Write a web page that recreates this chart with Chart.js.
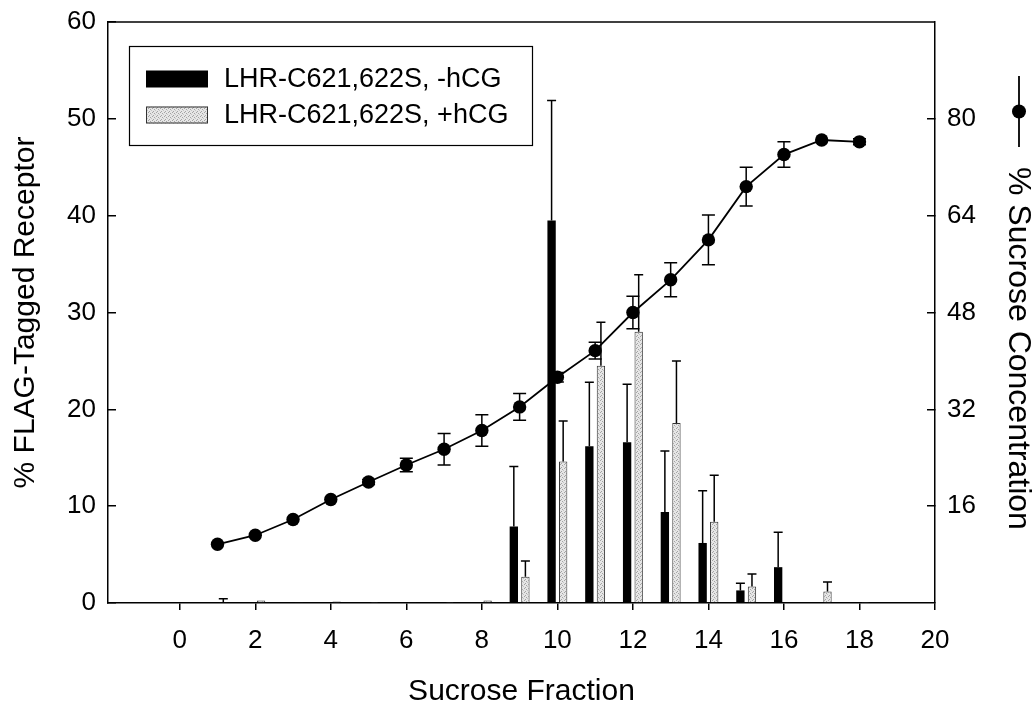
<!DOCTYPE html>
<html>
<head>
<meta charset="utf-8">
<script src="https://cdn.jsdelivr.net/npm/chart.js@4.4.1/dist/chart.umd.min.js"></script>
<style>
  html, body { margin: 0; padding: 0; background: #fff; }
  #wrap { width: 1036px; height: 710px; }
</style>
</head>
<body>
<div id="wrap"><canvas id="c" width="1036" height="710"></canvas></div>
<script>
// Sucrose gradient fractions
const fractions = [1, 2, 3, 4, 5, 6, 7, 8, 9, 10, 11, 12, 13, 14, 15, 16, 17, 18];

// % FLAG-tagged receptor per fraction, without hCG (mean and upper SEM)
const minusHcg    = [0.05, 0.1, 0.05, 0.05, 0.1, 0.05, 0.05, 0.1, 7.9, 39.5, 16.2, 16.6, 9.4, 6.2, 1.3, 3.7, 0, 0.1];
const minusHcgErr = [0, 0, 0, 0, 0, 0, 0, 0, 6.2, 12.4, 6.6, 6.0, 6.3, 5.4, 0.75, 3.6, 0, 0];

// % FLAG-tagged receptor per fraction, with hCG
const plusHcg    = [0.1, 0.25, 0.1, 0.15, 0.05, 0.1, 0.05, 0.25, 2.7, 14.6, 24.5, 28.0, 18.6, 8.4, 1.7, 0, 1.2, 0.05];
const plusHcgErr = [0.35, 0, 0, 0, 0, 0, 0, 0, 1.65, 4.2, 4.5, 5.9, 6.4, 4.8, 1.3, 0, 0.96, 0];

// % sucrose concentration per fraction (right axis)
const sucrose    = [9.7, 11.2, 13.8, 17.1, 20.0, 22.8, 25.4, 28.5, 32.4, 37.3, 41.7, 48.0, 53.4, 60.0, 68.8, 74.1, 76.5, 76.2];
const sucroseErr = [0, 0, 0, 0, 0.4, 1.1, 2.6, 2.6, 2.2, 0.8, 1.4, 2.7, 2.8, 4.1, 3.2, 2.1, 0, 0.5];

// Axis tick values
const fractionTicks = [0, 2, 4, 6, 8, 10, 12, 14, 16, 18, 20];
const receptorTicks = [0, 10, 20, 30, 40, 50, 60];
const sucroseTicks  = [16, 32, 48, 64, 80];

const seriesLabels = ['LHR-C621,622S, -hCG', 'LHR-C621,622S, +hCG'];

Chart.defaults.font.family = '"Liberation Sans", Arial, sans-serif';
Chart.defaults.color = '#000';

// Light stippled fill for the +hCG bars
function stipple() {
  const c = document.createElement('canvas');
  c.width = 4; c.height = 4;
  const g = c.getContext('2d');
  g.fillStyle = '#e6e6e6';
  g.fillRect(0, 0, 4, 4);
  g.fillStyle = '#a4a4a4';
  g.fillRect(0, 0, 1, 1);
  g.fillRect(2, 1, 1, 1);
  g.fillRect(1, 3, 1, 1);
  g.fillStyle = '#c4c4c4';
  g.fillRect(3, 2, 1, 1);
  return g.createPattern(c, 'repeat');
}
const greyFill = stipple();

const toPoints = (vals) => fractions.map((f, i) => ({ x: f, y: vals[i] }));

// Vertical axes: fixed width, no extra room reserved above/below for end labels
const fitVertical = (width) => (s) => {
  s.width = width;
  s.paddingTop = 0;
  s.paddingBottom = 0;
};

// Vertical error bars: upper only for bars, both directions for the sucrose curve
const errorBars = {
  id: 'errorBars',
  afterDatasetsDraw(chart) {
    const ctx = chart.ctx;
    chart.data.datasets.forEach((ds, di) => {
      if (!ds.errors) return;
      const meta = chart.getDatasetMeta(di);
      const yScale = chart.scales[meta.yAxisID];
      const isLine = ds.type === 'line';
      ctx.save();
      ctx.strokeStyle = '#000';
      ctx.lineWidth = 1.5;
      meta.data.forEach((el, i) => {
        const e = ds.errors[i];
        if (!e) return;
        const v = ds.data[i].y;
        const top = yScale.getPixelForValue(v + e);
        const bottom = isLine ? yScale.getPixelForValue(v - e) : el.y;
        const half = isLine ? 6.5 : 4.5;
        ctx.beginPath();
        ctx.moveTo(el.x, bottom);
        ctx.lineTo(el.x, top);
        ctx.moveTo(el.x - half, top);
        ctx.lineTo(el.x + half, top);
        if (isLine) {
          ctx.moveTo(el.x - half, bottom);
          ctx.lineTo(el.x + half, bottom);
        }
        ctx.stroke();
      });
      ctx.restore();
    });
  }
};

// Top edge of the frame, bar legend box and the right-hand axis title with its symbol
const decorations = {
  id: 'decorations',
  afterDraw(chart) {
    const { ctx, chartArea: a } = chart;
    ctx.save();
    ctx.strokeStyle = '#000';
    ctx.lineWidth = 1.5;
    ctx.beginPath();
    ctx.moveTo(a.left, a.top);
    ctx.lineTo(a.right, a.top);
    ctx.stroke();

    // legend for the two bar series
    const bx = a.left + 21, by = a.top + 24, bw = 403, bh = 99;
    ctx.fillStyle = '#fff';
    ctx.fillRect(bx, by, bw, bh);
    ctx.lineWidth = 1.2;
    ctx.strokeRect(bx + 0.5, by + 0.5, bw, bh);
    ctx.font = '27px "Liberation Sans", Arial, sans-serif';
    ctx.textBaseline = 'middle';
    ctx.textAlign = 'left';
    const rows = [by + 33, by + 69];
    [0, 1].forEach((k) => {
      const ds = chart.data.datasets[k];
      const cy = rows[k];
      ctx.fillStyle = ds.backgroundColor;
      ctx.fillRect(bx + 17, cy - 8.5, 62, 17);
      if (ds.borderWidth) {
        ctx.lineWidth = 1;
        ctx.strokeStyle = ds.borderColor;
        ctx.strokeRect(bx + 17.5, cy - 8, 61, 16);
      }
      ctx.fillStyle = '#000';
      ctx.fillText(ds.label, bx + 95, cy + 1);
    });

    // right-hand axis title with the line/marker key
    const line = chart.data.datasets[2];
    const title = chart.options.scales.y2.title.text;
    ctx.font = '32px "Liberation Sans", Arial, sans-serif';
    const keyLen = 71, gap = 20;
    const cx = 1019;
    const y0 = a.top + 54;
    ctx.strokeStyle = line.borderColor;
    ctx.lineWidth = line.borderWidth;
    ctx.beginPath();
    ctx.moveTo(cx, y0);
    ctx.lineTo(cx, y0 + keyLen);
    ctx.stroke();
    ctx.fillStyle = line.pointBackgroundColor;
    ctx.beginPath();
    ctx.arc(cx, y0 + keyLen / 2, 7, 0, Math.PI * 2);
    ctx.fill();
    ctx.translate(cx - 1, y0 + keyLen + gap);
    ctx.rotate(Math.PI / 2);
    ctx.fillStyle = '#000';
    ctx.textAlign = 'left';
    ctx.textBaseline = 'middle';
    ctx.fillText(title, 0, 0);
    ctx.restore();
  }
};

new Chart(document.getElementById('c'), {
  type: 'bar',
  data: {
    datasets: [
      {
        label: seriesLabels[0],
        data: toPoints(minusHcg),
        errors: minusHcgErr,
        backgroundColor: '#000',
        borderWidth: 0,
        yAxisID: 'y',
        categoryPercentage: 0.613,
        barPercentage: 0.72,
        order: 1
      },
      {
        label: seriesLabels[1],
        data: toPoints(plusHcg),
        errors: plusHcgErr,
        backgroundColor: greyFill,
        borderColor: '#333',
        borderWidth: 1,
        yAxisID: 'y',
        categoryPercentage: 0.613,
        barPercentage: 0.72,
        order: 1
      },
      {
        type: 'line',
        label: '% Sucrose Concentration',
        data: toPoints(sucrose),
        errors: sucroseErr,
        yAxisID: 'y2',
        borderColor: '#000',
        borderWidth: 1.8,
        pointRadius: 6.7,
        pointBackgroundColor: '#000',
        pointBorderWidth: 0,
        tension: 0,
        order: 0
      }
    ]
  },
  options: {
    responsive: false,
    animation: false,
    devicePixelRatio: 1,
    events: [],
    layout: { padding: { top: 22, left: 0, right: 0, bottom: 0 } },
    plugins: { legend: { display: false }, tooltip: { enabled: false } },
    scales: {
      x: {
        type: 'linear',
        position: 'bottom',
        min: -1.9,
        max: 20,
        offset: false,
        afterBuildTicks: (s) => { s.ticks = fractionTicks.map((v) => ({ value: v })); },
        afterFit: (s) => { s.height = 107; s.paddingLeft = 0; s.paddingRight = 0; },
        ticks: { font: { size: 26 }, color: '#000', padding: 15, maxRotation: 0, autoSkip: false },
        grid: { drawOnChartArea: false, drawTicks: true, tickLength: 7, color: '#000', lineWidth: 1.5, offset: false },
        border: { display: true, color: '#000', width: 1.5 },
        title: { display: true, text: 'Sucrose Fraction', font: { size: 30 }, color: '#000', padding: { top: 0, bottom: 0 } }
      },
      y: {
        position: 'left',
        min: 0,
        max: 60,
        afterBuildTicks: (s) => { s.ticks = receptorTicks.map((v) => ({ value: v })); },
        afterFit: fitVertical(108),
        ticks: { font: { size: 26 }, color: '#000', padding: 20 },
        grid: { drawOnChartArea: false, drawTicks: true, tickLength: -8, color: '#000', lineWidth: 1.5 },
        border: { display: true, color: '#000', width: 1.5 },
        title: { display: true, text: '% FLAG-Tagged Receptor', font: { size: 30 }, color: '#000', padding: { top: 8, bottom: 0 } }
      },
      y2: {
        position: 'right',
        min: 0,
        max: 96,
        afterBuildTicks: (s) => { s.ticks = sucroseTicks.map((v) => ({ value: v })); },
        afterFit: fitVertical(101),
        ticks: { font: { size: 26 }, color: '#000', padding: 20 },
        grid: { drawOnChartArea: false, drawTicks: true, tickLength: -8, color: '#000', lineWidth: 1.5 },
        border: { display: true, color: '#000', width: 1.5 },
        title: { display: false, text: '% Sucrose Concentration' }
      }
    }
  },
  plugins: [errorBars, decorations]
});
</script>
</body>
</html>
